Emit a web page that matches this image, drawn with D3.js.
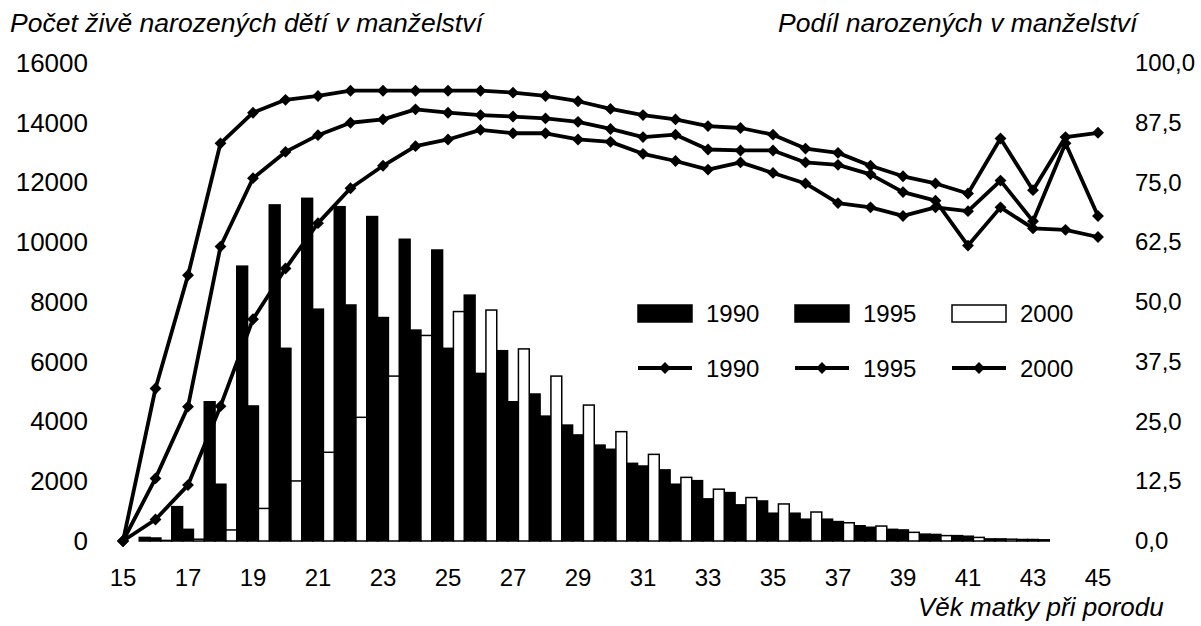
<!DOCTYPE html>
<html>
<head>
<meta charset="utf-8">
<script src="https://cdn.jsdelivr.net/npm/d3@7/dist/d3.min.js"></script>
<style>
  body { margin: 0; background: #fff; }
  svg text { font-family: "Liberation Sans", Arial, Helvetica, sans-serif; fill: #000; }
</style>
</head>
<body>
<svg id="chart" width="1201" height="626"></svg>
<script>
// =====================================================
// Data
// =====================================================
const ages = [15, 16, 17, 18, 19, 20, 21, 22, 23, 24, 25, 26, 27, 28, 29, 30,
              31, 32, 33, 34, 35, 36, 37, 38, 39, 40, 41, 42, 43, 44, 45];
const years = ["1990", "1995", "2000"];

/** live births in marriage, by age of mother */
const births1990 = [0, 120, 1150, 4660, 9200, 11250, 11470, 11190, 10860, 10100, 9740, 8230, 6370, 4920, 3880, 3210,
                    2600, 2380, 2020, 1620, 1340, 930, 730, 510, 390, 230, 180, 70, 50, 0, 0];
const births1995 = [0, 100, 390, 1900, 4520, 6450, 7760, 7900, 7480, 7060, 6450, 5610, 4660, 4180, 3550, 3070,
                    2510, 1900, 1410, 1210, 930, 730, 650, 460, 370, 220, 160, 70, 50, 0, 0];
const births2000 = [0, 20, 60, 370, 1090, 2010, 2970, 4140, 5520, 6880, 7680, 7730, 6430, 5520, 4550, 3660,
                    2900, 2130, 1735, 1455, 1240, 970, 610, 500, 290, 180, 120, 60, 40, 0, 0];

/** share of births in marriage (%) */
const share1990 = [0, 31.9, 55.6, 83.2, 89.6, 92.3, 93.1, 94.2, 94.2, 94.2, 94.2, 94.2, 93.8, 93.1, 92.0, 90.4,
                   89.1, 88.2, 86.8, 86.4, 85.0, 82.1, 81.2, 78.5, 76.3, 74.8, 72.7, 84.2, 73.4, 84.5, 85.4];
const share1995 = [0, 13.1, 28.1, 61.6, 75.9, 81.4, 84.9, 87.5, 88.2, 90.3, 89.6, 89.1, 88.8, 88.4, 87.7, 86.2,
                   84.5, 85.0, 81.9, 81.7, 81.7, 79.2, 78.7, 76.7, 73.0, 71.2, 61.8, 69.8, 65.4, 65.1, 63.6];
const share2000 = [0, 4.5, 11.7, 28.2, 46.4, 57.0, 66.5, 73.8, 78.5, 82.6, 84.0, 86.0, 85.3, 85.3, 84.0, 83.5,
                   81.0, 79.5, 77.7, 79.2, 77.0, 74.8, 70.7, 69.8, 68.0, 69.8, 69.0, 75.4, 66.9, 83.2, 68.0];

const leftTicks  = [0, 2000, 4000, 6000, 8000, 10000, 12000, 14000, 16000];
const rightTicks = [0, 12.5, 25, 37.5, 50, 62.5, 75, 87.5, 100];
const xTicks     = [15, 17, 19, 21, 23, 25, 27, 29, 31, 33, 35, 37, 39, 41, 43, 45];

const barSeries  = [births1990, births1995, births2000];
const lineSeries = [share1990, share1995, share2000];

// =====================================================
// Layout
// =====================================================
const svg = d3.select("#chart");
const plot = { left: 106.75, right: 1114.25, top: 63, bottom: 541 };
const barFill = ["#000", "#000", "#fff"];
const fontSize = 24;
const titleSize = 26.5;

const x = d3.scaleBand()
  .domain(ages)
  .range([plot.left, plot.right])
  .padding(0);
const xSub = d3.scaleBand()
  .domain(years)
  .range([0, x.bandwidth()])
  .padding(0);
const yL = d3.scaleLinear().domain([0, 16000]).range([plot.bottom, plot.top]);
const yR = d3.scaleLinear().domain([0, 100]).range([plot.bottom, plot.top]);
const cx = a => x(a) + x.bandwidth() / 2;

// ----------
// Bars
// =================
years.forEach((yr, k) => {
  svg.append("g")
    .selectAll("rect")
    .data(ages.map((a, i) => ({ age: a, v: barSeries[k][i] })).filter(d => d.v > 0))
    .enter()
    .append("rect")
    .attr("x", d => x(d.age) + xSub(yr))
    .attr("y", d => yL(d.v))
    .attr("width", xSub.bandwidth())
    .attr("height", d => yL(0) - yL(d.v))
    .attr("fill", barFill[k])
    .attr("stroke", "#000")
    .attr("stroke-width", 1.5);
});

// ----------
// Lines + markers
// =================
const diamond = d3.symbol().type(d3.symbolSquare).size(70);
lineSeries.forEach(series => {
  const pts = ages.map((a, i) => ({ age: a, v: series[i] }));
  svg.append("path")
    .datum(pts)
    .attr("fill", "none")
    .attr("stroke", "#000")
    .attr("stroke-width", 3.8)
    .attr("stroke-linejoin", "round")
    .attr("d", d3.line().x(d => cx(d.age)).y(d => yR(d.v)));
  svg.append("g")
    .selectAll("path")
    .data(pts)
    .enter()
    .append("path")
    .attr("d", diamond)
    .attr("transform", d => `translate(${cx(d.age)},${yR(d.v)}) rotate(45)`)
    .attr("fill", "#000");
});

// ----------
// Axes (text only)
// =================
const gL = svg.append("g")
  .attr("transform", "translate(88,0)")
  .call(d3.axisLeft(yL).tickValues(leftTicks).tickSize(0).tickPadding(0).tickFormat(d3.format("d")));
const gR = svg.append("g")
  .attr("transform", "translate(1135,0)")
  .call(d3.axisRight(yR).tickValues(rightTicks).tickSize(0).tickPadding(0)
    .tickFormat(d => d3.format(".1f")(d).replace(".", ",")));
const gB = svg.append("g")
  .attr("transform", `translate(0,${plot.bottom})`)
  .call(d3.axisBottom(x).tickValues(xTicks).tickSize(0).tickPadding(28));
[gL, gR, gB].forEach(g => {
  g.select(".domain").remove();
  g.selectAll("text")
    .attr("font-size", g === gL ? 26 : fontSize)
    .style("font-family", "'Liberation Sans', Arial, sans-serif");
});

// ----------
// Titles
// =================
svg.append("text").attr("x", 10).attr("y", 32)
  .attr("font-size", titleSize).attr("font-style", "italic")
  .text("Počet živě narozených dětí v manželství");
svg.append("text").attr("x", 778).attr("y", 32)
  .attr("font-size", titleSize).attr("font-style", "italic")
  .text("Podíl narozených v manželství");
svg.append("text").attr("x", 918).attr("y", 616)
  .attr("font-size", 26).attr("font-style", "italic")
  .text("Věk matky při porodu");

// ----------
// Legend
// =================
const legendX = [638, 795, 952];
years.forEach((yr, k) => {
  const g = svg.append("g").attr("transform", `translate(${legendX[k]},0)`);
  g.append("rect")
    .attr("x", 0).attr("y", 305).attr("width", 54).attr("height", 17)
    .attr("fill", barFill[k]).attr("stroke", "#000").attr("stroke-width", 1.5);
  g.append("text").attr("x", 68).attr("y", 322).attr("font-size", fontSize).text(yr);
  g.append("line")
    .attr("x1", 0).attr("x2", 54).attr("y1", 368).attr("y2", 368)
    .attr("stroke", "#000").attr("stroke-width", 3.8);
  g.append("path")
    .attr("d", diamond)
    .attr("transform", "translate(27,368) rotate(45)");
  g.append("text").attr("x", 68).attr("y", 377).attr("font-size", fontSize).text(yr);
});
</script>
</body>
</html>
